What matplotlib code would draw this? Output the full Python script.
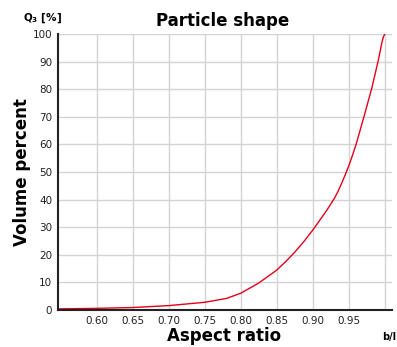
import numpy as np
import matplotlib.pyplot as plt

# aspect ratio (b/l) vs cumulative volume Q3 [%]
aspect = [0.545, 0.60, 0.65, 0.70, 0.75, 0.78, 0.80, 0.825, 0.85, 0.8625,
          0.875, 0.8875, 0.90, 0.915, 0.922, 0.93, 0.935, 0.94, 0.945, 0.95,
          0.955, 0.96, 0.965, 0.972, 0.982, 0.9905, 0.996, 0.998, 1.0]
q3 = [0.4, 0.6, 0.9, 1.6, 2.8, 4.2, 6.1, 9.8, 14.5, 17.6,
      21.0, 24.8, 29.0, 34.5, 37.2, 40.5, 43.0, 45.9, 49.0, 52.3,
      56.0, 60.0, 64.5, 71.0, 80.5, 90.0, 97.0, 99.0, 100.0]
xticks = [0.60, 0.65, 0.70, 0.75, 0.80, 0.85, 0.90, 0.95, 1.00]
xticklabels = ["0.60", "0.65", "0.70", "0.75", "0.80", "0.85", "0.90", "0.95", ""]
yticks = list(range(0, 101, 10))

fig = plt.figure(figsize=(3.97, 3.47), dpi=100)
ax = fig.add_axes([0.1453, 0.1066, 0.8413, 0.7954])

ax.plot(aspect, q3, color="#e2001a", lw=1.0)

ax.set_xlim(0.5455, 1.0095)
ax.set_ylim(0, 100)
ax.set_xticks(xticks)
ax.set_xticklabels(xticklabels)
ax.set_yticks(yticks)
ax.tick_params(length=0, labelsize=7.5, labelcolor="#222222", pad=4)
ax.grid(True, color="#d4d4d4", lw=1.0)
ax.set_axisbelow(True)

for s in ["top", "right"]:
    ax.spines[s].set_visible(False)
for s in ["left", "bottom"]:
    ax.spines[s].set_linewidth(1.5)
    ax.spines[s].set_color("#222222")

fig.text(0.562, 0.94, "Particle shape", ha="center", va="center",
         fontsize=12, fontweight="bold")
fig.text(0.055, 0.504, "Volume percent", ha="center", va="center",
         rotation=90, fontsize=12, fontweight="bold")
fig.text(0.564, 0.016, "Aspect ratio", ha="center", va="baseline",
         fontsize=12, fontweight="bold")
fig.text(0.107, 0.948, r"Q$_\mathbf{3}$ [%]", ha="center", va="center",
         fontsize=7.5, fontweight="bold")
fig.text(0.962, 0.028, "b/l", ha="left", va="center",
         fontsize=7, fontweight="bold")

plt.savefig("out.png", dpi=100)
